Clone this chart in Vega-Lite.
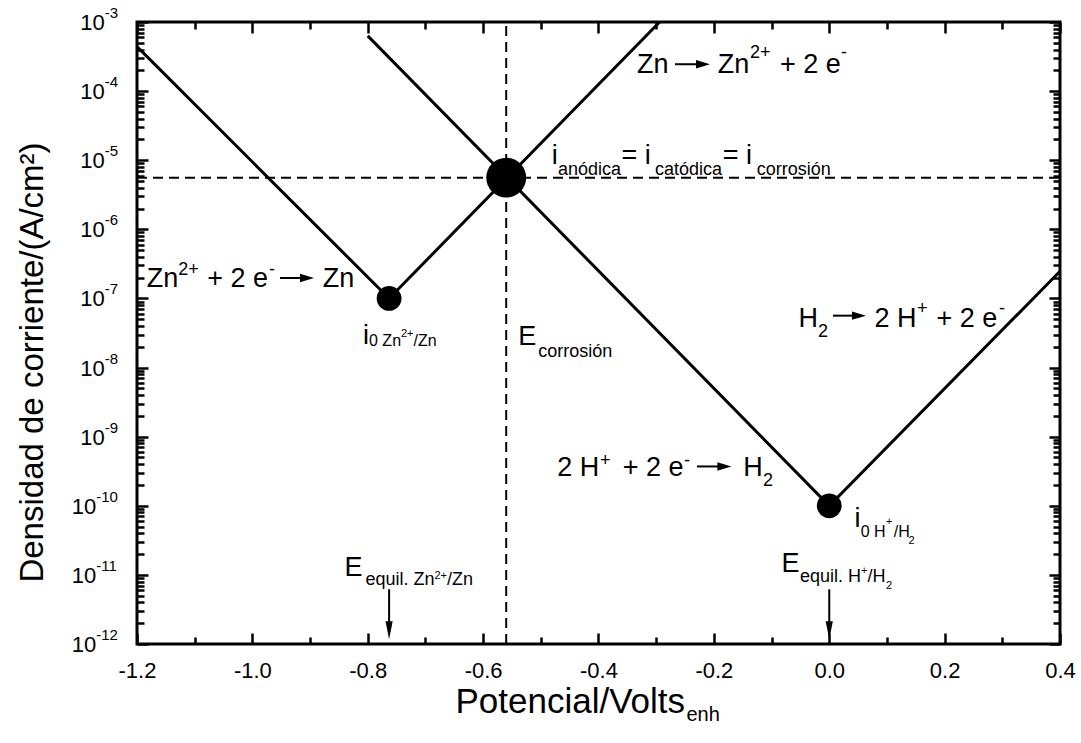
{
  "$schema": "https://vega.github.io/schema/vega-lite/v6.json",
  "width": 923,
  "height": 622,
  "autosize": {"type": "none"},
  "padding": {"left": 137, "top": 22, "right": 21, "bottom": 99},
  "background": "white",
  "config": {
    "view": {"stroke": "black", "strokeWidth": 3},
    "axis": {
      "domain": false,
      "grid": false,
      "tickColor": "black",
      "tickWidth": 2.5,
      "labelColor": "black",
      "labelFont": "Liberation Sans",
      "labelFontSize": 22,
      "titleFont": "Liberation Sans",
      "titleColor": "black",
      "titleFontWeight": "normal",
      "labelFlush": false,
      "labelOverlap": false
    },
    "text": {"font": "Liberation Sans", "color": "black", "align": "left", "baseline": "alphabetic"}
  },
  "datasets": {
    "zn": [
      {"E": -1.2, "i": 4.4e-4},
      {"E": -0.763, "i": 1e-7},
      {"E": -0.294, "i": 1e-3}
    ],
    "h": [
      {"E": -0.8, "i": 6.3e-4},
      {"E": 0, "i": 1e-10},
      {"E": 0.4, "i": 2.47e-7}
    ],
    "vdash": [{"E": -0.56, "i": 1e-12, "i2": 1e-3}],
    "hdash": [{"E": -1.2, "E2": 0.4, "i": 5.6e-6}],
    "eq": [
      {"E": -0.763, "i": 1e-7},
      {"E": 0, "i": 1e-10}
    ],
    "corr": [{"E": -0.56, "i": 5.6e-6}],
    "shafts": [
      {"E": -0.2674, "E2": -0.2189, "i": 2.449e-4, "i2": 2.449e-4},
      {"E": -0.9521, "E2": -0.9053, "i": 1.977e-7, "i2": 1.977e-7},
      {"E": 0.0065, "E2": 0.0516, "i": 5.636e-8, "i2": 5.636e-8},
      {"E": -0.2293, "E2": -0.1818, "i": 3.707e-10, "i2": 3.707e-10},
      {"E": -0.763, "E2": -0.763, "i": 6.19e-12, "i2": 1.581e-12},
      {"E": 0, "E2": 0, "i": 6.19e-12, "i2": 1.581e-12}
    ],
    "headsH": [
      {"E": -0.2189, "i": 2.449e-4},
      {"E": -0.9053, "i": 1.977e-7},
      {"E": 0.0516, "i": 5.636e-8},
      {"E": -0.1818, "i": 3.707e-10}
    ],
    "headsV": [
      {"E": -0.763, "i": 1.581e-12},
      {"E": 0, "i": 1.581e-12}
    ],
    "decade": [
      {"E": -1.2985, "i": 7.66e-4, "t": "10"},
      {"E": -1.2985, "i": 7.66e-5, "t": "10"},
      {"E": -1.2985, "i": 7.66e-6, "t": "10"},
      {"E": -1.2985, "i": 7.66e-7, "t": "10"},
      {"E": -1.2985, "i": 7.66e-8, "t": "10"},
      {"E": -1.2985, "i": 7.66e-9, "t": "10"},
      {"E": -1.2985, "i": 7.66e-10, "t": "10"},
      {"E": -1.313, "i": 7.66e-11, "t": "10"},
      {"E": -1.313, "i": 7.66e-12, "t": "10"},
      {"E": -1.313, "i": 7.66e-13, "t": "10"}
    ],
    "exponent": [
      {"E": -1.256, "i": 1.142e-3, "t": "-3"},
      {"E": -1.256, "i": 1.142e-4, "t": "-4"},
      {"E": -1.256, "i": 1.142e-5, "t": "-5"},
      {"E": -1.256, "i": 1.142e-6, "t": "-6"},
      {"E": -1.256, "i": 1.142e-7, "t": "-7"},
      {"E": -1.256, "i": 1.142e-8, "t": "-8"},
      {"E": -1.256, "i": 1.142e-9, "t": "-9"},
      {"E": -1.2706, "i": 1.142e-10, "t": "-10"},
      {"E": -1.2706, "i": 1.142e-11, "t": "-11"},
      {"E": -1.2706, "i": 1.142e-12, "t": "-12"}
    ],
    "main": [
      {"E": -0.3333, "i": 1.803e-4, "t": "Zn"},
      {"E": -0.1934, "i": 1.803e-4, "t": "Zn"},
      {"E": -0.0854, "i": 1.803e-4, "t": "+ 2 e"},
      {"E": -1.1832, "i": 1.466e-7, "t": "Zn"},
      {"E": -1.0781, "i": 1.466e-7, "t": "+ 2 e"},
      {"E": -0.8781, "i": 1.466e-7, "t": "Zn"},
      {"E": -0.8083, "i": 2.198e-8, "t": "i"},
      {"E": -0.4812, "i": 8.79e-6, "t": "i"},
      {"E": -0.3602, "i": 8.79e-6, "t": "= i"},
      {"E": -0.1848, "i": 8.79e-6, "t": "= i"},
      {"E": -0.5391, "i": 2.148e-8, "t": "E"},
      {"E": -0.0532, "i": 3.89e-8, "t": "H"},
      {"E": 0.0784, "i": 3.89e-8, "t": "2 H"},
      {"E": 0.186, "i": 3.89e-8, "t": "+ 2 e"},
      {"E": -0.4716, "i": 2.698e-10, "t": "2 H"},
      {"E": -0.3579, "i": 2.698e-10, "t": "+ 2 e"},
      {"E": -0.1489, "i": 2.698e-10, "t": "H"},
      {"E": 0.0437, "i": 5.0e-11, "t": "i"},
      {"E": -0.8403, "i": 9.55e-12, "t": "E"},
      {"E": -0.0828, "i": 1.091e-11, "t": "E"}
    ],
    "script": [
      {"E": -0.1374, "i": 2.972e-4, "t": "2+"},
      {"E": 0.0203, "i": 2.972e-4, "t": "-"},
      {"E": -1.1286, "i": 2.208e-7, "t": "2+"},
      {"E": -0.9712, "i": 2.208e-7, "t": "-"},
      {"E": -0.4702, "i": 6.15e-6, "t": "anódica"},
      {"E": -0.3021, "i": 6.15e-6, "t": "catódica"},
      {"E": -0.1258, "i": 6.15e-6, "t": "corrosión"},
      {"E": -0.5044, "i": 1.429e-8, "t": "corrosión"},
      {"E": -0.0194, "i": 2.748e-8, "t": "2"},
      {"E": 0.152, "i": 6.026e-8, "t": "+"},
      {"E": 0.2942, "i": 6.026e-8, "t": "-"},
      {"E": -0.3974, "i": 3.707e-10, "t": "+"},
      {"E": -0.2518, "i": 3.707e-10, "t": "-"},
      {"E": -0.1149, "i": 1.914e-10, "t": "2"},
      {"E": -0.8041, "i": 7.079e-12, "t": "equil. Zn"},
      {"E": -0.6626, "i": 7.079e-12, "t": "/Zn"},
      {"E": -0.0508, "i": 7.816e-12, "t": "equil. H"},
      {"E": 0.0662, "i": 7.816e-12, "t": "/H"}
    ],
    "script2": [
      {"E": -0.7978, "i": 2.032e-8, "t": "0 Zn"},
      {"E": -0.7207, "i": 2.032e-8, "t": "/Zn"},
      {"E": 0.0545, "i": 3.54e-11, "t": "0 H"},
      {"E": 0.1119, "i": 3.54e-11, "t": "/H"}
    ],
    "script3": [
      {"E": -0.7424, "i": 2.805e-8, "t": "2+"},
      {"E": 0.0983, "i": 5.21e-11, "t": "+"},
      {"E": 0.1372, "i": 2.818e-11, "t": "2"},
      {"E": -0.6843, "i": 8.75e-12, "t": "2+"},
      {"E": 0.055, "i": 1.021e-11, "t": "+"},
      {"E": 0.0983, "i": 6.194e-12, "t": "2"}
    ],
    "titleSub": [
      {"E": -0.2475, "i": 7.66e-14, "t": "enh"}
    ]
  },
  "encoding": {
    "x": {"field": "E", "type": "quantitative", "scale": {"domain": [-1.2, 0.4], "nice": false, "zero": false}, "axis": null},
    "y": {"field": "i", "type": "quantitative", "scale": {"type": "log", "domain": [1e-12, 1e-3], "nice": false}, "axis": null}
  },
  "layer": [
    {
      "data": {"name": "zn"},
      "mark": {"type": "line", "color": "black", "strokeWidth": 3},
      "encoding": {
        "x": {
          "field": "E", "type": "quantitative",
          "scale": {"domain": [-1.2, 0.4], "nice": false, "zero": false},
          "axis": {
            "orient": "bottom",
            "values": [-1.2, -1, -0.8, -0.6, -0.4, -0.2, 0, 0.2, 0.4],
            "format": ".1f",
            "labelExpr": "replace(datum.label, '−', '-')",
            "tickSize": -11,
            "labelPadding": 27,
            "title": "Potencial/Volts",
            "titleFontSize": 35,
            "titleAlign": "left",
            "titleX": 318,
            "titleY": 68,
            "titleBaseline": "alphabetic"
          }
        },
        "y": {
          "field": "i", "type": "quantitative",
          "scale": {"type": "log", "domain": [1e-12, 1e-3], "nice": false},
          "axis": {
            "orient": "left",
            "values": [1e-12, 1e-11, 1e-10, 1e-9, 1e-8, 1e-7, 1e-6, 1e-5, 1e-4, 1e-3],
            "tickSize": -11,
            "labels": false,
            "title": "Densidad de corriente/(A/cm²)",
            "titleFontSize": 33,
            "titleAngle": 270,
            "titleAlign": "center",
            "titleBaseline": "middle",
            "titleX": -105,
            "titleY": 340
          }
        }
      }
    },
    {
      "data": {"name": "h"},
      "mark": {"type": "line", "color": "black", "strokeWidth": 3},
      "encoding": {
        "x": {
          "field": "E", "type": "quantitative",
          "scale": {"domain": [-1.2, 0.4], "nice": false, "zero": false},
          "axis": {"orient": "bottom", "values": [-1.1, -0.9, -0.7, -0.5, -0.3, -0.1, 0.1, 0.3], "tickSize": -7, "labels": false, "title": null}
        },
        "y": {
          "field": "i", "type": "quantitative",
          "scale": {"type": "log", "domain": [1e-12, 1e-3], "nice": false},
          "axis": {
            "orient": "left",
            "values": [2e-12, 3e-12, 4e-12, 5e-12, 6e-12, 7e-12, 8e-12, 9e-12, 2e-11, 3e-11, 4e-11, 5e-11, 6e-11, 7e-11, 8e-11, 9e-11, 2e-10, 3e-10, 4e-10, 5e-10, 6e-10, 7e-10, 8e-10, 9e-10, 2e-9, 3e-9, 4e-9, 5e-9, 6e-9, 7e-9, 8e-9, 9e-9, 2e-8, 3e-8, 4e-8, 5e-8, 6e-8, 7e-8, 8e-8, 9e-8, 2e-7, 3e-7, 4e-7, 5e-7, 6e-7, 7e-7, 8e-7, 9e-7, 2e-6, 3e-6, 4e-6, 5e-6, 6e-6, 7e-6, 8e-6, 9e-6, 2e-5, 3e-5, 4e-5, 5e-5, 6e-5, 7e-5, 8e-5, 9e-5, 2e-4, 3e-4, 4e-4, 5e-4, 6e-4, 7e-4, 8e-4, 9e-4],
            "tickSize": -7, "labels": false, "title": null
          }
        }
      }
    },
    {
      "data": {"name": "vdash"},
      "mark": {"type": "rule", "color": "black", "strokeWidth": 2, "strokeDash": [10, 6]},
      "encoding": {"y2": {"field": "i2"}}
    },
    {
      "data": {"name": "hdash"},
      "mark": {"type": "rule", "color": "black", "strokeWidth": 2, "strokeDash": [10, 6]},
      "encoding": {"x2": {"field": "E2"}}
    },
    {
      "data": {"name": "eq"},
      "mark": {"type": "circle", "color": "black", "opacity": 1, "size": 615},
      "encoding": {
        "x": {
          "field": "E", "type": "quantitative",
          "scale": {"domain": [-1.2, 0.4], "nice": false, "zero": false},
          "axis": {"orient": "top", "values": [-1.2, -1, -0.8, -0.6, -0.4, -0.2, 0, 0.2, 0.4], "tickSize": -11, "labels": false, "title": null}
        },
        "y": {
          "field": "i", "type": "quantitative",
          "scale": {"type": "log", "domain": [1e-12, 1e-3], "nice": false},
          "axis": {"orient": "right", "values": [1e-12, 1e-11, 1e-10, 1e-9, 1e-8, 1e-7, 1e-6, 1e-5, 1e-4, 1e-3], "tickSize": -11, "labels": false, "title": null}
        }
      }
    },
    {
      "data": {"name": "corr"},
      "mark": {"type": "circle", "color": "black", "opacity": 1, "size": 1590},
      "encoding": {
        "x": {
          "field": "E", "type": "quantitative",
          "scale": {"domain": [-1.2, 0.4], "nice": false, "zero": false},
          "axis": {"orient": "top", "values": [-1.1, -0.9, -0.7, -0.5, -0.3, -0.1, 0.1, 0.3], "tickSize": -7, "labels": false, "title": null}
        },
        "y": {
          "field": "i", "type": "quantitative",
          "scale": {"type": "log", "domain": [1e-12, 1e-3], "nice": false},
          "axis": {
            "orient": "right",
            "values": [2e-12, 3e-12, 4e-12, 5e-12, 6e-12, 7e-12, 8e-12, 9e-12, 2e-11, 3e-11, 4e-11, 5e-11, 6e-11, 7e-11, 8e-11, 9e-11, 2e-10, 3e-10, 4e-10, 5e-10, 6e-10, 7e-10, 8e-10, 9e-10, 2e-9, 3e-9, 4e-9, 5e-9, 6e-9, 7e-9, 8e-9, 9e-9, 2e-8, 3e-8, 4e-8, 5e-8, 6e-8, 7e-8, 8e-8, 9e-8, 2e-7, 3e-7, 4e-7, 5e-7, 6e-7, 7e-7, 8e-7, 9e-7, 2e-6, 3e-6, 4e-6, 5e-6, 6e-6, 7e-6, 8e-6, 9e-6, 2e-5, 3e-5, 4e-5, 5e-5, 6e-5, 7e-5, 8e-5, 9e-5, 2e-4, 3e-4, 4e-4, 5e-4, 6e-4, 7e-4, 8e-4, 9e-4],
            "tickSize": -7, "labels": false, "title": null
          }
        }
      }
    },
    {
      "data": {"name": "shafts"},
      "mark": {"type": "rule", "color": "black", "strokeWidth": 2},
      "encoding": {"x2": {"field": "E2"}, "y2": {"field": "i2"}}
    },
    {
      "data": {"name": "headsH"},
      "mark": {"type": "point", "shape": "M-1,-0.6L1,0L-1,0.6Z", "filled": true, "color": "black", "opacity": 1, "size": 196, "strokeWidth": 0}
    },
    {
      "data": {"name": "headsV"},
      "mark": {"type": "point", "shape": "M-0.4,-1L0,1L0.4,-1Z", "filled": true, "color": "black", "opacity": 1, "size": 324, "strokeWidth": 0}
    },
    {
      "data": {"name": "decade"},
      "mark": {"type": "text", "fontSize": 22},
      "encoding": {"text": {"field": "t"}}
    },
    {
      "data": {"name": "exponent"},
      "mark": {"type": "text", "fontSize": 15},
      "encoding": {"text": {"field": "t"}}
    },
    {
      "data": {"name": "main"},
      "mark": {"type": "text", "fontSize": 27},
      "encoding": {"text": {"field": "t"}}
    },
    {
      "data": {"name": "script"},
      "mark": {"type": "text", "fontSize": 18},
      "encoding": {"text": {"field": "t"}}
    },
    {
      "data": {"name": "script2"},
      "mark": {"type": "text", "fontSize": 16},
      "encoding": {"text": {"field": "t"}}
    },
    {
      "data": {"name": "script3"},
      "mark": {"type": "text", "fontSize": 11},
      "encoding": {"text": {"field": "t"}}
    },
    {
      "data": {"name": "titleSub"},
      "mark": {"type": "text", "fontSize": 20},
      "encoding": {"text": {"field": "t"}}
    }
  ],
  "resolve": {"axis": {"x": "independent", "y": "independent"}}
}
